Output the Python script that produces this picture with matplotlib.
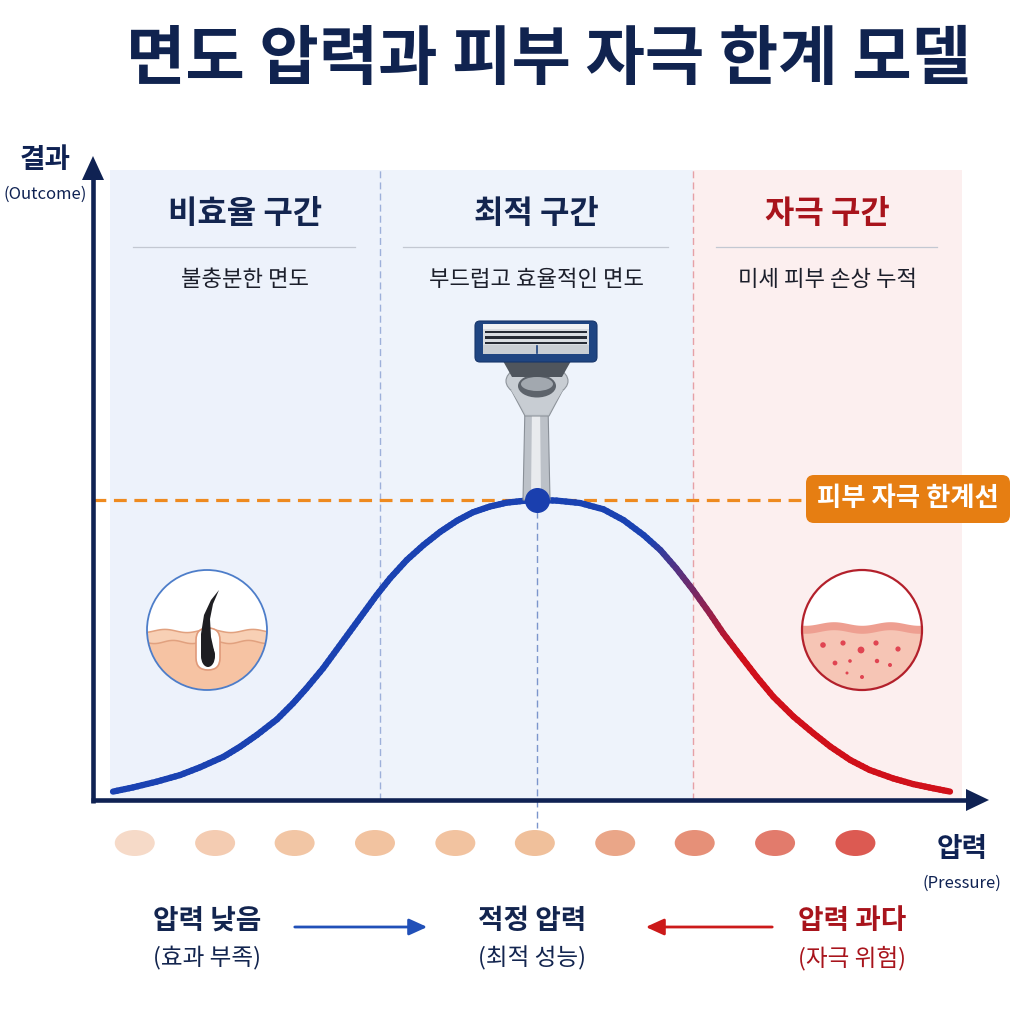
import numpy as np
import matplotlib
matplotlib.use("Agg")
import matplotlib.pyplot as plt
from matplotlib import transforms as mtransforms
from matplotlib.patches import Ellipse, Circle, Polygon, FancyBboxPatch, Rectangle
from matplotlib.collections import LineCollection

plt.rcParams['font.family'] = ['Noto Sans CJK KR', 'DejaVu Sans']

# values (pressure 0-10, outcome 1.0 = irritation threshold)
pressure = [0.00, 0.24, 0.52, 0.80, 1.04, 1.32, 1.52, 1.72, 1.96, 2.15, 2.31, 2.51, 2.67,
            2.83, 2.99, 3.15, 3.31, 3.51, 3.71, 3.91, 4.11, 4.30, 4.50, 4.70, 4.90, 5.06,
            5.30, 5.58, 5.86, 6.10, 6.34, 6.54, 6.73, 6.93, 7.13, 7.29, 7.49, 7.69, 7.89,
            8.13, 8.37, 8.57, 8.81, 9.04, 9.32, 9.56, 9.80, 10.00]
outcome = [0.028, 0.042, 0.061, 0.083, 0.109, 0.144, 0.178, 0.217, 0.269, 0.322, 0.372,
           0.439, 0.500, 0.561, 0.622, 0.683, 0.739, 0.800, 0.850, 0.894, 0.931, 0.959,
           0.978, 0.991, 0.997, 1.000, 0.998, 0.990, 0.969, 0.933, 0.883, 0.833, 0.772,
           0.700, 0.622, 0.556, 0.483, 0.411, 0.344, 0.278, 0.222, 0.178, 0.133, 0.100,
           0.072, 0.053, 0.039, 0.028]
peak_pressure = 5.06
threshold = 1.0
threshold_label = '피부 자극 한계선'

zone_edges = [-0.04, 3.19, 6.93, 10.14]
zone_names = ['비효율 구간', '최적 구간', '자극 구간']
zone_notes = ['불충분한 면도', '부드럽고 효율적인 면도', '미세 피부 손상 누적']
zone_fill = ['#edf2fb', '#eef3fb', '#fcefef']
zone_title_col = ['#13254f', '#13254f', '#a8141c']

level_pressure = [0.26, 1.22, 2.17, 3.13, 4.09, 5.04, 6.00, 6.95, 7.91, 8.87]
level_colors = ['#f6dac8', '#f4ccb2', '#f2c6a5', '#f2c3a0', '#f2c3a0',
                '#f0c09b', '#eaa688', '#e69078', '#e27b6c', '#dc5a52']

title = '면도 압력과 피부 자극 한계 모델'
bottom_main = ['압력 낮음', '적정 압력', '압력 과다']
bottom_sub = ['(효과 부족)', '(최적 성능)', '(자극 위험)']
bottom_col = ['#13254f', '#13254f', '#a8141c']

NAVY = '#0f2253'
BLUE = np.array([0x1a, 0x42, 0xb2]) / 255
RED = np.array([0xd0, 0x10, 0x1a]) / 255

# pixel mapping of the plot area
X0, XS = 113, 83.7   # pixel of pressure 0, pixels per unit
Y0, YS = 800, 300    # pixel of outcome 0, pixels per unit
L, R, T, B = 93, 987, 158, 870

fig = plt.figure(figsize=(10.24, 10.24), dpi=100)
fig.patch.set_facecolor('white')
ax = fig.add_axes([L / 1024, 1 - B / 1024, (R - L) / 1024, (B - T) / 1024])
ax.set_xlim((L - X0) / XS, (R - X0) / XS)
ax.set_ylim((Y0 - B) / YS, (Y0 - T) / YS)
ax.axis('off')

pix = mtransforms.Affine2D().scale(1, -1).translate(0, 1024)
bt = mtransforms.blended_transform_factory(ax.transData, pix)
zone_top = (Y0 - 170) / YS


def to_px(p):
    return X0 + p * XS


# zones
for i in range(3):
    e0, e1 = zone_edges[i], zone_edges[i + 1]
    ax.add_patch(Rectangle((e0, 0), e1 - e0, zone_top, color=zone_fill[i], lw=0, zorder=0.5))
    cx = (e0 + e1) / 2
    ax.text(cx, 214, zone_names[i], transform=bt, ha='center', va='center',
            fontsize=23, fontweight='bold', color=zone_title_col[i])
    ax.plot([e0 + 0.28, e1 - 0.3], [247, 247], transform=bt, color='#c3c8d2', lw=0.9, zorder=2)
    ax.text(cx, 280, zone_notes[i], transform=bt, ha='center', va='center',
            fontsize=16, fontweight='medium', color='#1c1f2b')

ax.plot([zone_edges[1]] * 2, [0, zone_top], color='#9db0da', lw=1, ls=(0, (5, 3)), zorder=2)
ax.plot([zone_edges[2]] * 2, [0, zone_top], color='#e6a0a6', lw=1, ls=(0, (5, 3)), zorder=2)

# soft glow behind razor
for r in range(140, 0, -4):
    ax.add_patch(Circle((537, 400), r, transform=pix, color='white', alpha=0.045,
                        lw=0, zorder=1))

# centre guide
ax.plot([peak_pressure] * 2, [threshold, (Y0 - 828) / YS], color='#7b95cc', lw=1,
        ls=(0, (5, 3)), zorder=2)

# threshold line + label
ax.plot([(L - X0) / XS, (805 - X0) / XS], [threshold] * 2, color='#ee8a1f', lw=2.3,
        dashes=(4, 2.4), zorder=3)
ax.add_patch(FancyBboxPatch((806, 475), 204, 48, boxstyle='round,pad=0,rounding_size=8',
                            transform=pix, color='#e67e12', lw=0, zorder=6, clip_on=False))
ax.text(908, 499, threshold_label, transform=pix, ha='center', va='center',
        fontsize=19, fontweight='bold', color='white', zorder=7)


# curve with blue -> red gradient
def curve_color(x):
    t = np.clip((x - 650) / 90, 0, 1)
    return tuple(BLUE + (RED - BLUE) * t)


xy = np.column_stack([pressure, outcome])
segs, cols = [], []
steps = np.linspace(0, 1, 6)
for a, b in zip(xy[:-1], xy[1:]):
    for t0, t1 in zip(steps[:-1], steps[1:]):
        p0 = a + (b - a) * t0
        p1 = a + (b - a) * t1
        segs.append([p0, p1])
        cols.append(curve_color(to_px((p0[0] + p1[0]) / 2)))
ax.add_collection(LineCollection(segs, colors=cols, linewidths=4.5, capstyle='round',
                                 joinstyle='round', zorder=4))


# razor
def P(pts, **kw):
    ax.add_patch(Polygon(pts, closed=True, transform=pix, clip_on=False, **kw))


P([(525, 405), (548, 405), (550, 500), (523, 500)], fc='#bcc1c8', ec='#8a9098', lw=0.8, zorder=5)
P([(532, 405), (540, 405), (541, 498), (531, 498)], fc='#e9ebee', lw=0, zorder=5)
P([(509, 386), (565, 386), (549, 416), (525, 416)], fc='#c4c9cf', ec='#8e949b', lw=0.8, zorder=5)
ax.add_patch(Ellipse((537, 381), 62, 34, transform=pix, fc='#c8cdd3', ec='#8e949b', lw=0.8,
                     zorder=5, clip_on=False))
P([(511, 390), (563, 390), (548, 414), (526, 414)], fc='#c8cdd3', lw=0, zorder=5)
ax.add_patch(Ellipse((537, 386), 38, 23, transform=pix, fc='#5d636b', lw=0, zorder=5, clip_on=False))
ax.add_patch(Ellipse((537, 384), 32, 14, transform=pix, fc='#a2a8af', lw=0, zorder=5, clip_on=False))
P([(503, 361), (571, 361), (562, 377), (512, 377)], fc='#4f555d', lw=0, zorder=5)
ax.add_patch(FancyBboxPatch((475, 321), 122, 41, boxstyle='round,pad=0,rounding_size=5',
                            transform=pix, fc='#1f4582', ec='#17356a', lw=0.8, zorder=5,
                            clip_on=False))
ax.add_patch(Rectangle((483, 324), 106, 30, transform=pix, fc='#d9dde2', lw=0, zorder=5,
                       clip_on=False))
ax.add_patch(Rectangle((483, 324), 106, 5, transform=pix, fc='#f0f2f4', lw=0, zorder=5,
                       clip_on=False))
for by in (330.5, 336, 341.5):
    ax.add_patch(Rectangle((485, by), 102, 2.6, transform=pix, fc='#262b35', lw=0, zorder=5,
                           clip_on=False))
ax.add_patch(Rectangle((483, 345), 106, 9, transform=pix, fc='#c9ced4', lw=0, zorder=5,
                       clip_on=False))
ax.plot([537, 537], [346, 353], transform=pix, color='#1f4582', lw=1.2, zorder=5)

# peak marker
ax.plot([peak_pressure], [threshold], 'o', ms=17, color='#1a3fae', zorder=6)

# level dots
dot_row = (Y0 - 843) / YS
for p, c in zip(level_pressure, level_colors):
    ax.add_patch(Ellipse((p, dot_row), 40 / XS, 26 / YS, color=c, lw=0, zorder=3))

# left icon: healthy hair
cl = Circle((207, 630), 60, transform=pix, fc='white', ec='none', zorder=5)
ax.add_patch(cl)
wx = np.linspace(140, 274, 60)
top1 = 631 + 1.6 * np.sin(wx / 7.0)
top2 = 642 + 1.6 * np.sin(wx / 6.0 + 1)
skin1 = Polygon(list(zip(wx, top1)) + [(274, 700), (140, 700)], closed=True, transform=pix,
                fc='#f8d0b5', lw=0, zorder=5)
skin2 = Polygon(list(zip(wx, top2)) + [(274, 700), (140, 700)], closed=True, transform=pix,
                fc='#f6c3a3', lw=0, zorder=5)
for s in (skin1, skin2):
    ax.add_patch(s)
    s.set_clip_path(cl)
for yy in (top1, top2):
    ln, = ax.plot(wx, yy, transform=pix, color='#e1a17f', lw=1.1, zorder=5)
    ln.set_clip_path(cl)
ax.add_patch(FancyBboxPatch((196, 628), 24, 42, boxstyle='round,pad=0,rounding_size=12',
                            transform=pix, fc='white', ec='#e09a7a', lw=1.2, zorder=5))
P([(201, 655), (201, 634), (204, 615), (211, 600), (219, 590), (213, 604), (210, 619),
   (211, 637), (215, 655)], fc='#1e1e22', lw=0, zorder=5)
ax.add_patch(Ellipse((208, 656), 14, 22, transform=pix, fc='#1e1e22', lw=0, zorder=5))
ax.add_patch(Circle((207, 630), 60, transform=pix, fc='none', ec='#4d7dc9', lw=1.3, zorder=5))

# right icon: irritated skin
cr = Circle((862, 630), 60, transform=pix, fc='white', ec='none', zorder=5)
ax.add_patch(cr)
rx = np.linspace(800, 924, 60)
rtop = 624 + 1.8 * np.sin(rx / 9.0)
band = Polygon(list(zip(rx, rtop)) + [(924, 700), (800, 700)], closed=True, transform=pix,
               fc='#ee9f91', lw=0, zorder=5)
inner = Polygon(list(zip(rx, rtop + 8)) + [(924, 700), (800, 700)], closed=True, transform=pix,
                fc='#f6c5b5', lw=0, zorder=5)
for s in (band, inner):
    ax.add_patch(s)
    s.set_clip_path(cr)
spots = [(823, 645, 2.8), (843, 643, 2.6), (861, 650, 3.4), (876, 643, 2.6), (898, 649, 2.6),
         (835, 663, 2.4), (850, 661, 1.8), (877, 661, 2.2), (890, 665, 2.0), (862, 677, 2.0),
         (847, 673, 1.5)]
for sx, sy, sr in spots:
    ax.add_patch(Circle((sx, sy), sr, transform=pix, fc='#e04552', lw=0, zorder=5))
ax.add_patch(Circle((862, 630), 60, transform=pix, fc='none', ec='#b3202b', lw=1.6, zorder=5))

# axes arrows
ax.plot([93, 93], [803, 176], transform=pix, color=NAVY, lw=3.3, solid_capstyle='butt',
        zorder=7, clip_on=False)
P([(93, 156), (82, 180), (104, 180)], fc=NAVY, lw=0, zorder=7)
ax.plot([91, 968], [800, 800], transform=pix, color=NAVY, lw=3.3, solid_capstyle='butt',
        zorder=7, clip_on=False)
P([(989, 800), (966, 789), (966, 811)], fc=NAVY, lw=0, zorder=7)

# axis labels
ax.text(45, 160, '결과', transform=pix, ha='center', va='center', fontsize=20,
        fontweight='bold', color=NAVY)
ax.text(45, 194, '(Outcome)', transform=pix, ha='center', va='center', fontsize=12,
        fontweight='medium', color=NAVY)
ax.text(962, 849, '압력', transform=pix, ha='center', va='center', fontsize=20,
        fontweight='bold', color=NAVY)
ax.text(962, 883, '(Pressure)', transform=pix, ha='center', va='center', fontsize=12,
        fontweight='medium', color=NAVY)

# title
ax.text(548, 60, title, transform=pix, ha='center', va='center', fontsize=46.5,
        fontweight='black', color='#10234f')

# bottom legend
for x, m, s, c in zip([207, 532, 852], bottom_main, bottom_sub, bottom_col):
    ax.text(x, 921, m, transform=pix, ha='center', va='center', fontsize=20,
            fontweight='bold', color=c)
    ax.text(x, 958, s, transform=pix, ha='center', va='center', fontsize=17,
            fontweight='medium', color=c)
ax.annotate('', xy=(430, 927), xytext=(292, 927), xycoords=pix, textcoords=pix,
            arrowprops=dict(arrowstyle='-|>,head_length=1.1,head_width=0.5', color='#2150b8',
                            lw=2))
ax.annotate('', xy=(643, 927), xytext=(775, 927), xycoords=pix, textcoords=pix,
            arrowprops=dict(arrowstyle='-|>,head_length=1.1,head_width=0.5', color='#cc1a1a',
                            lw=2))

fig.savefig('out.png', dpi=100, facecolor='white')
